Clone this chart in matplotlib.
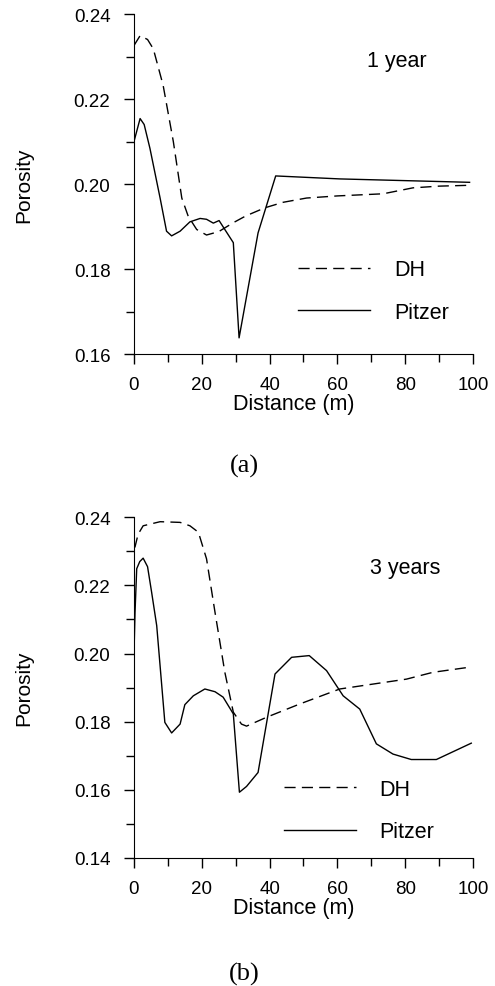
import matplotlib
matplotlib.use('Agg')
import matplotlib.pyplot as plt
from matplotlib.ticker import MultipleLocator, FormatStrFormatter

plt.rcParams['font.family'] = ['Liberation Sans', 'DejaVu Sans']

# (a) 1 year
dist_dh_1 = [0, 1.8, 4, 5.7, 8.6, 11.6, 14.1, 16.0, 18.5, 21.4, 25, 29.3, 33, 38.6, 44, 50.9, 60, 73.5, 82.3, 90, 99]
por_dh_1 = [0.2326, 0.2349, 0.2340, 0.2318, 0.2232, 0.2100, 0.1967, 0.1924, 0.1893, 0.1880, 0.1888, 0.1909,
            0.1925, 0.1944, 0.1957, 0.1967, 0.1972, 0.1977, 0.1991, 0.1995, 0.1997]
dist_pz_1 = [0, 1.8, 3, 4.7, 7.7, 9.6, 11.1, 13.6, 16.5, 19.5, 21.4, 23.4, 25.1, 29.3, 31.0, 36.6, 41.8, 60.7, 99]
por_pz_1 = [0.2100, 0.2154, 0.2140, 0.2084, 0.1967, 0.1889, 0.1878, 0.1889, 0.1911, 0.1919, 0.1917, 0.1908,
            0.1914, 0.1862, 0.1638, 0.1885, 0.2019, 0.2012, 0.2004]

# (b) 3 years
dist_dh_3 = [0, 0.3, 1.2, 2.7, 7.7, 13.6, 16.5, 19.0, 21.4, 23.9, 26.8, 29.3, 31.7, 33.2, 39.1, 48.9, 60.7, 80.4, 88.2, 99]
por_dh_3 = [0.2310, 0.2313, 0.2350, 0.2375, 0.2387, 0.2385, 0.2375, 0.2356, 0.2278, 0.2121, 0.1945, 0.1828,
            0.1793, 0.1787, 0.1813, 0.1852, 0.1896, 0.1925, 0.1945, 0.1960]
dist_pz_3 = [0, 0.3, 0.8, 1.7, 2.7, 4.0, 5.2, 6.7, 9.1, 11.1, 13.6, 15.0, 17.5, 20.9, 23.9, 26.3, 29.3, 31.1,
             33.2, 36.6, 41.6, 46.5, 51.7, 56.8, 61.7, 66.6, 71.5, 76.4, 81.8, 89.2, 99.5]
por_pz_3 = [0.1999, 0.2120, 0.2249, 0.2270, 0.2280, 0.2255, 0.2180, 0.2082, 0.1798, 0.1767, 0.1793, 0.1850,
            0.1876, 0.1896, 0.1888, 0.1872, 0.1823, 0.1593, 0.1610, 0.1651, 0.1940, 0.1989, 0.1994, 0.1950,
            0.1876, 0.1837, 0.1735, 0.1705, 0.1689, 0.1689, 0.1737]

fig = plt.figure(figsize=(4.95, 9.87), dpi=100)

panels = [
    dict(rect=[0.2707, 0.6403, 0.6848, 0.3445], ylim=(0.16, 0.24), dh=(dist_dh_1, por_dh_1),
         pz=(dist_pz_1, por_pz_1), note='1 year', note_xy=(0.686, 0.847), leg_xy=(0.484, 0.278),
         tag='(a)', tag_y=0.5274),
    dict(rect=[0.2707, 0.1297, 0.6848, 0.3452], ylim=(0.14, 0.24), dh=(dist_dh_3, por_dh_3),
         pz=(dist_pz_3, por_pz_3), note='3 years', note_xy=(0.696, 0.837), leg_xy=(0.442, 0.232),
         tag='(b)', tag_y=0.0132),
]

for p in panels:
    ax = fig.add_axes(p['rect'])
    ax.plot(*p['dh'], color='black', lw=1.0, dashes=(8, 4.5), label='DH')
    ax.plot(*p['pz'], color='black', lw=1.0, label='Pitzer')
    ax.set_xlim(0, 100)
    ax.set_ylim(*p['ylim'])
    ax.spines['top'].set_visible(False)
    ax.spines['right'].set_visible(False)
    ax.xaxis.set_major_locator(MultipleLocator(20))
    ax.xaxis.set_minor_locator(MultipleLocator(10))
    ax.yaxis.set_major_locator(MultipleLocator(0.02))
    ax.yaxis.set_minor_locator(MultipleLocator(0.01))
    ax.yaxis.set_major_formatter(FormatStrFormatter('%.2f'))
    ax.tick_params(which='major', direction='out', length=7, width=1, labelsize=13.5)
    ax.tick_params(which='minor', direction='out', length=6, width=1)
    ax.tick_params(axis='x', which='major', pad=9)
    ax.tick_params(axis='y', which='major', pad=10)
    ax.set_xlabel('Distance (m)', fontsize=15.5, labelpad=0)
    ax.xaxis.set_label_coords(0.47, -0.114)
    ax.set_ylabel('Porosity', fontsize=15)
    ax.yaxis.set_label_coords(-0.298, 0.5)
    ax.text(p['note_xy'][0], p['note_xy'][1], p['note'], transform=ax.transAxes,
            fontsize=15.5, ha='left', va='baseline')
    ax.legend(loc='upper left', bbox_to_anchor=p['leg_xy'], frameon=False, fontsize=15.5,
              handlelength=3.35, handletextpad=1.1, labelspacing=1.0, borderpad=0, borderaxespad=0)
    fig.text(0.494, p['tag_y'], p['tag'], family='Liberation Serif', fontsize=19, ha='center', va='center')

fig.savefig('out.png', dpi=100)
